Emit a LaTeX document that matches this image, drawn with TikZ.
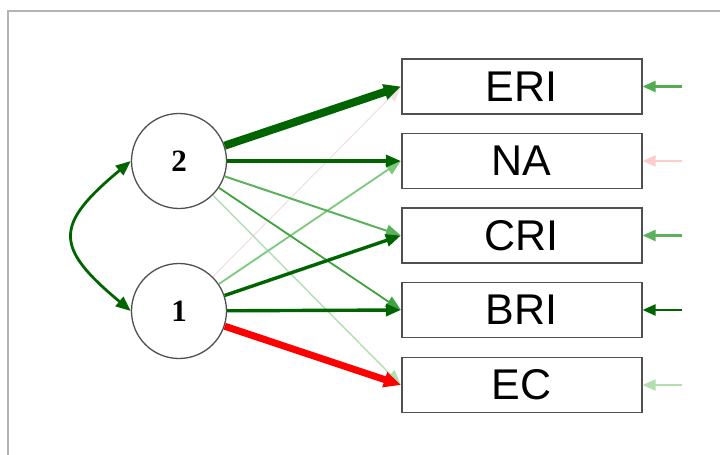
\documentclass[tikz,border=0pt]{standalone}
\usepackage{fontspec}
\setmainfont{Liberation Sans}
\newfontfamily\numfont{Liberation Serif}[BoldFont={Liberation Serif Bold}]
\usetikzlibrary{arrows.meta}
\definecolor{dkgreen}{HTML}{006400}
\definecolor{midgreen}{HTML}{3FA33F}
\definecolor{ltgreen}{HTML}{7CC87C}
\definecolor{palegreen}{HTML}{B2DEB2}
\definecolor{palered}{HTML}{F1E0E0}
\definecolor{frame}{HTML}{B4B4B4}
\definecolor{edgegray}{HTML}{505050}
\tikzset{
  latent/.style={circle, draw=edgegray, line width=1.3pt, fill=white,
    minimum size=95pt, inner sep=0pt, scale=1},
  latentlabel/.style={font=\numfont\bfseries},
  manifest/.style={rectangle, draw=edgegray, line width=1.7pt, fill=white,
    minimum width=240pt, minimum height=55pt, inner sep=0pt,
    font=\fontsize{43}{43}\selectfont},
  path/.style={-{Triangle[length=15pt,width=12pt]}},
  bigpath/.style={-{Triangle[length=17pt,width=15pt]}},
  resid/.style={-{Triangle[length=13pt,width=11pt]}, line width=2.2pt}
}
\begin{document}
\begin{tikzpicture}[x=1pt, y=-1pt]
  \useasboundingbox (0,0) rectangle (720,455);
  % outer frame (top and left sides only)
  \draw[frame, line width=1.8pt] (720,11) -- (8,11) -- (8,455);

  % indicators
  \node[manifest] (eri) at (521.7,86.5) {ERI};
  \node[manifest] (na)  at (521.7,161)  {NA};
  \node[manifest] (cri) at (521.7,235.5) {CRI};
  \node[manifest] (bri) at (521.7,310)  {BRI};
  \node[manifest] (ec)  at (521.7,385)  {EC};

  % factors: circles, then their numbers scaled up on top
  \node[latent] (n2) at (179,161) {};
  \node[latent] (n1) at (179,311) {};
  \node[latentlabel, scale=3.1] (l2) at (n2.center) {2};
  \node[latentlabel, scale=3.1] (l1) at (n1.center) {1};

  % free ends of the residual arrows
  \coordinate (reri) at (682,86.5);
  \coordinate (rna)  at (682,161);
  \coordinate (rcri) at (682,235.5);
  \coordinate (rbri) at (682,310);
  \coordinate (rec)  at (682,385);

  % loadings (faint ones first)
  \draw[path, palered, line width=1.1pt] (n1) -- (eri.west);
  \draw[path, palegreen, line width=1.4pt] (n2) -- (ec.west);
  \draw[path, ltgreen, line width=1.8pt] (n1) -- (na.west);
  \draw[path, midgreen!85, line width=2pt] (n2) -- (cri.west);
  \draw[path, midgreen, line width=1.8pt] (n2) -- (bri.west);
  \draw[path, dkgreen, line width=3.4pt] (n2) -- (na.west);
  \draw[path, dkgreen, line width=3.4pt] (n1) -- (cri.west);
  \draw[path, dkgreen, line width=3.4pt] (n1) -- (bri.west);
  \draw[bigpath, red, line width=7pt] (n1) -- (ec.west);
  \draw[bigpath, dkgreen, line width=8pt] (n2) -- (eri.west);

  % factor covariance
  \draw[{Triangle[length=15pt,width=12pt]}-{Triangle[length=15pt,width=12pt]},
        dkgreen, line width=2.8pt]
    (n2.west) .. controls (54,225) and (54,247) .. (n1.west);

  % residual variances
  \draw[resid, midgreen!90] (reri) -- (eri.east);
  \draw[resid, red!20] (rna) -- (na.east);
  \draw[resid, midgreen!85] (rcri) -- (cri.east);
  \draw[resid, dkgreen] (rbri) -- (bri.east);
  \draw[resid, palegreen] (rec) -- (ec.east);
\end{tikzpicture}
\end{document}
